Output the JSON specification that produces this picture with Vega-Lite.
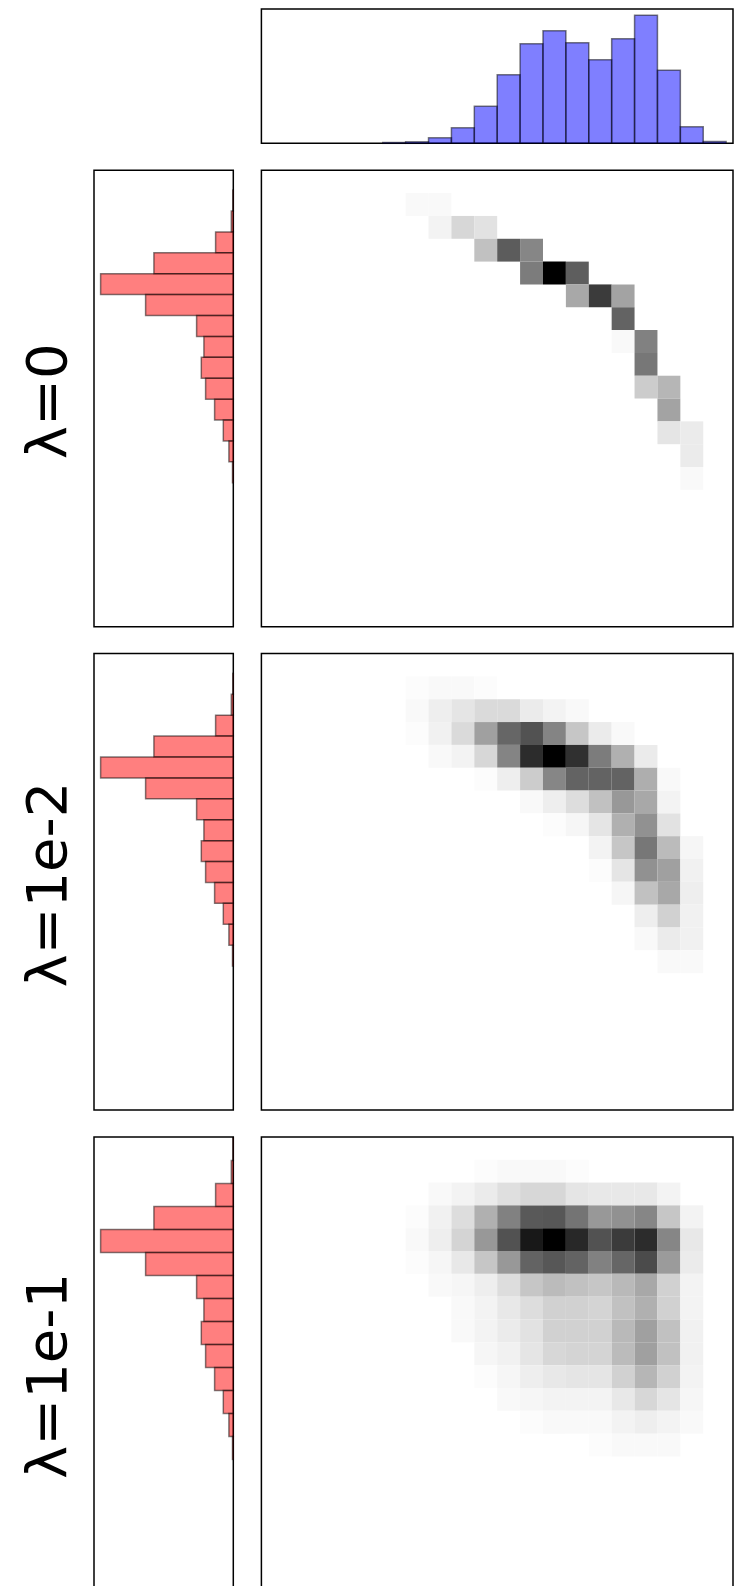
{
  "$schema": "https://vega.github.io/schema/vega-lite/v6.json",
  "padding": {"left": 19, "top": 8, "right": 0, "bottom": 0},
  "background": "#ffffff",
  "config": {
    "view": {"stroke": "#000000", "strokeWidth": 1.5},
    "axis": {"grid": false}
  },
  "datasets": {
    "top": [
      {"x0": 5, "x1": 6, "n": 0.8},
      {"x0": 6, "x1": 7, "n": 1.5},
      {"x0": 7, "x1": 8, "n": 5.5},
      {"x0": 8, "x1": 9, "n": 15.5},
      {"x0": 9, "x1": 10, "n": 37},
      {"x0": 10, "x1": 11, "n": 68.5},
      {"x0": 11, "x1": 12, "n": 99.5},
      {"x0": 12, "x1": 13, "n": 112.5},
      {"x0": 13, "x1": 14, "n": 100.5},
      {"x0": 14, "x1": 15, "n": 83.5},
      {"x0": 15, "x1": 16, "n": 104.5},
      {"x0": 16, "x1": 17, "n": 128},
      {"x0": 17, "x1": 18, "n": 73},
      {"x0": 18, "x1": 19, "n": 16.5},
      {"x0": 19, "x1": 20, "n": 1.7}
    ],
    "left": [
      {"y0": 1, "y1": 2, "n": 0.5},
      {"y0": 2, "y1": 3, "n": 2},
      {"y0": 3, "y1": 4, "n": 17.7},
      {"y0": 4, "y1": 5, "n": 79.4},
      {"y0": 5, "y1": 6, "n": 132.7},
      {"y0": 6, "y1": 7, "n": 87.7},
      {"y0": 7, "y1": 8, "n": 36.7},
      {"y0": 8, "y1": 9, "n": 29.4},
      {"y0": 9, "y1": 10, "n": 32},
      {"y0": 10, "y1": 11, "n": 27.7},
      {"y0": 11, "y1": 12, "n": 18.7},
      {"y0": 12, "y1": 13, "n": 10},
      {"y0": 13, "y1": 14, "n": 4.4},
      {"y0": 14, "y1": 15, "n": 0.8}
    ],
    "heat": [
      {"p": 1, "r": 1, "c": 6, "v": 0.02},
      {"p": 1, "r": 1, "c": 7, "v": 0.02},
      {"p": 1, "r": 2, "c": 7, "v": 0.04},
      {"p": 1, "r": 2, "c": 8, "v": 0.14},
      {"p": 1, "r": 2, "c": 9, "v": 0.1},
      {"p": 1, "r": 3, "c": 9, "v": 0.22},
      {"p": 1, "r": 3, "c": 10, "v": 0.61},
      {"p": 1, "r": 3, "c": 11, "v": 0.44},
      {"p": 1, "r": 4, "c": 11, "v": 0.48},
      {"p": 1, "r": 4, "c": 12, "v": 1.0},
      {"p": 1, "r": 4, "c": 13, "v": 0.6},
      {"p": 1, "r": 5, "c": 13, "v": 0.31},
      {"p": 1, "r": 5, "c": 14, "v": 0.75},
      {"p": 1, "r": 5, "c": 15, "v": 0.33},
      {"p": 1, "r": 6, "c": 15, "v": 0.58},
      {"p": 1, "r": 7, "c": 15, "v": 0.02},
      {"p": 1, "r": 7, "c": 16, "v": 0.46},
      {"p": 1, "r": 8, "c": 16, "v": 0.5},
      {"p": 1, "r": 9, "c": 16, "v": 0.18},
      {"p": 1, "r": 9, "c": 17, "v": 0.26},
      {"p": 1, "r": 10, "c": 17, "v": 0.33},
      {"p": 1, "r": 11, "c": 17, "v": 0.09},
      {"p": 1, "r": 11, "c": 18, "v": 0.07},
      {"p": 1, "r": 12, "c": 18, "v": 0.07},
      {"p": 1, "r": 13, "c": 18, "v": 0.02},

      {"p": 2, "r": 1, "c": 6, "v": 0.01},
      {"p": 2, "r": 1, "c": 7, "v": 0.02},
      {"p": 2, "r": 1, "c": 8, "v": 0.02},
      {"p": 2, "r": 1, "c": 9, "v": 0.01},
      {"p": 2, "r": 2, "c": 6, "v": 0.02},
      {"p": 2, "r": 2, "c": 7, "v": 0.06},
      {"p": 2, "r": 2, "c": 8, "v": 0.09},
      {"p": 2, "r": 2, "c": 9, "v": 0.13},
      {"p": 2, "r": 2, "c": 10, "v": 0.13},
      {"p": 2, "r": 2, "c": 11, "v": 0.07},
      {"p": 2, "r": 2, "c": 12, "v": 0.04},
      {"p": 2, "r": 2, "c": 13, "v": 0.02},
      {"p": 2, "r": 3, "c": 6, "v": 0.01},
      {"p": 2, "r": 3, "c": 7, "v": 0.05},
      {"p": 2, "r": 3, "c": 8, "v": 0.13},
      {"p": 2, "r": 3, "c": 9, "v": 0.34},
      {"p": 2, "r": 3, "c": 10, "v": 0.57},
      {"p": 2, "r": 3, "c": 11, "v": 0.65},
      {"p": 2, "r": 3, "c": 12, "v": 0.45},
      {"p": 2, "r": 3, "c": 13, "v": 0.2},
      {"p": 2, "r": 3, "c": 14, "v": 0.07},
      {"p": 2, "r": 3, "c": 15, "v": 0.02},
      {"p": 2, "r": 4, "c": 7, "v": 0.02},
      {"p": 2, "r": 4, "c": 8, "v": 0.04},
      {"p": 2, "r": 4, "c": 9, "v": 0.14},
      {"p": 2, "r": 4, "c": 10, "v": 0.45},
      {"p": 2, "r": 4, "c": 11, "v": 0.82},
      {"p": 2, "r": 4, "c": 12, "v": 1.0},
      {"p": 2, "r": 4, "c": 13, "v": 0.8},
      {"p": 2, "r": 4, "c": 14, "v": 0.48},
      {"p": 2, "r": 4, "c": 15, "v": 0.28},
      {"p": 2, "r": 4, "c": 16, "v": 0.07},
      {"p": 2, "r": 5, "c": 9, "v": 0.01},
      {"p": 2, "r": 5, "c": 10, "v": 0.06},
      {"p": 2, "r": 5, "c": 11, "v": 0.18},
      {"p": 2, "r": 5, "c": 12, "v": 0.44},
      {"p": 2, "r": 5, "c": 13, "v": 0.58},
      {"p": 2, "r": 5, "c": 14, "v": 0.58},
      {"p": 2, "r": 5, "c": 15, "v": 0.58},
      {"p": 2, "r": 5, "c": 16, "v": 0.29},
      {"p": 2, "r": 5, "c": 17, "v": 0.02},
      {"p": 2, "r": 6, "c": 11, "v": 0.02},
      {"p": 2, "r": 6, "c": 12, "v": 0.06},
      {"p": 2, "r": 6, "c": 13, "v": 0.12},
      {"p": 2, "r": 6, "c": 14, "v": 0.22},
      {"p": 2, "r": 6, "c": 15, "v": 0.37},
      {"p": 2, "r": 6, "c": 16, "v": 0.31},
      {"p": 2, "r": 6, "c": 17, "v": 0.04},
      {"p": 2, "r": 7, "c": 12, "v": 0.01},
      {"p": 2, "r": 7, "c": 13, "v": 0.03},
      {"p": 2, "r": 7, "c": 14, "v": 0.09},
      {"p": 2, "r": 7, "c": 15, "v": 0.28},
      {"p": 2, "r": 7, "c": 16, "v": 0.4},
      {"p": 2, "r": 7, "c": 17, "v": 0.1},
      {"p": 2, "r": 8, "c": 14, "v": 0.04},
      {"p": 2, "r": 8, "c": 15, "v": 0.2},
      {"p": 2, "r": 8, "c": 16, "v": 0.5},
      {"p": 2, "r": 8, "c": 17, "v": 0.24},
      {"p": 2, "r": 8, "c": 18, "v": 0.03},
      {"p": 2, "r": 9, "c": 14, "v": 0.01},
      {"p": 2, "r": 9, "c": 15, "v": 0.09},
      {"p": 2, "r": 9, "c": 16, "v": 0.4},
      {"p": 2, "r": 9, "c": 17, "v": 0.34},
      {"p": 2, "r": 9, "c": 18, "v": 0.05},
      {"p": 2, "r": 10, "c": 15, "v": 0.03},
      {"p": 2, "r": 10, "c": 16, "v": 0.22},
      {"p": 2, "r": 10, "c": 17, "v": 0.31},
      {"p": 2, "r": 10, "c": 18, "v": 0.06},
      {"p": 2, "r": 11, "c": 16, "v": 0.06},
      {"p": 2, "r": 11, "c": 17, "v": 0.16},
      {"p": 2, "r": 11, "c": 18, "v": 0.05},
      {"p": 2, "r": 12, "c": 16, "v": 0.02},
      {"p": 2, "r": 12, "c": 17, "v": 0.07},
      {"p": 2, "r": 12, "c": 18, "v": 0.05},
      {"p": 2, "r": 13, "c": 17, "v": 0.02},
      {"p": 2, "r": 13, "c": 18, "v": 0.02},

      {"p": 3, "r": 1, "c": 9, "v": 0.01},
      {"p": 3, "r": 1, "c": 10, "v": 0.02},
      {"p": 3, "r": 1, "c": 11, "v": 0.02},
      {"p": 3, "r": 1, "c": 12, "v": 0.02},
      {"p": 3, "r": 1, "c": 13, "v": 0.01},
      {"p": 3, "r": 2, "c": 7, "v": 0.02},
      {"p": 3, "r": 2, "c": 8, "v": 0.04},
      {"p": 3, "r": 2, "c": 9, "v": 0.07},
      {"p": 3, "r": 2, "c": 10, "v": 0.11},
      {"p": 3, "r": 2, "c": 11, "v": 0.14},
      {"p": 3, "r": 2, "c": 12, "v": 0.14},
      {"p": 3, "r": 2, "c": 13, "v": 0.09},
      {"p": 3, "r": 2, "c": 14, "v": 0.08},
      {"p": 3, "r": 2, "c": 15, "v": 0.08},
      {"p": 3, "r": 2, "c": 16, "v": 0.08},
      {"p": 3, "r": 2, "c": 17, "v": 0.04},
      {"p": 3, "r": 3, "c": 6, "v": 0.01},
      {"p": 3, "r": 3, "c": 7, "v": 0.05},
      {"p": 3, "r": 3, "c": 8, "v": 0.12},
      {"p": 3, "r": 3, "c": 9, "v": 0.28},
      {"p": 3, "r": 3, "c": 10, "v": 0.46},
      {"p": 3, "r": 3, "c": 11, "v": 0.62},
      {"p": 3, "r": 3, "c": 12, "v": 0.63},
      {"p": 3, "r": 3, "c": 13, "v": 0.51},
      {"p": 3, "r": 3, "c": 14, "v": 0.37},
      {"p": 3, "r": 3, "c": 15, "v": 0.4},
      {"p": 3, "r": 3, "c": 16, "v": 0.44},
      {"p": 3, "r": 3, "c": 17, "v": 0.2},
      {"p": 3, "r": 3, "c": 18, "v": 0.04},
      {"p": 3, "r": 4, "c": 6, "v": 0.02},
      {"p": 3, "r": 4, "c": 7, "v": 0.06},
      {"p": 3, "r": 4, "c": 8, "v": 0.15},
      {"p": 3, "r": 4, "c": 9, "v": 0.37},
      {"p": 3, "r": 4, "c": 10, "v": 0.65},
      {"p": 3, "r": 4, "c": 11, "v": 0.92},
      {"p": 3, "r": 4, "c": 12, "v": 1.0},
      {"p": 3, "r": 4, "c": 13, "v": 0.84},
      {"p": 3, "r": 4, "c": 14, "v": 0.65},
      {"p": 3, "r": 4, "c": 15, "v": 0.75},
      {"p": 3, "r": 4, "c": 16, "v": 0.82},
      {"p": 3, "r": 4, "c": 17, "v": 0.44},
      {"p": 3, "r": 4, "c": 18, "v": 0.08},
      {"p": 3, "r": 5, "c": 6, "v": 0.01},
      {"p": 3, "r": 5, "c": 7, "v": 0.03},
      {"p": 3, "r": 5, "c": 8, "v": 0.08},
      {"p": 3, "r": 5, "c": 9, "v": 0.2},
      {"p": 3, "r": 5, "c": 10, "v": 0.37},
      {"p": 3, "r": 5, "c": 11, "v": 0.58},
      {"p": 3, "r": 5, "c": 12, "v": 0.63},
      {"p": 3, "r": 5, "c": 13, "v": 0.58},
      {"p": 3, "r": 5, "c": 14, "v": 0.46},
      {"p": 3, "r": 5, "c": 15, "v": 0.57},
      {"p": 3, "r": 5, "c": 16, "v": 0.68},
      {"p": 3, "r": 5, "c": 17, "v": 0.36},
      {"p": 3, "r": 5, "c": 18, "v": 0.07},
      {"p": 3, "r": 6, "c": 7, "v": 0.02},
      {"p": 3, "r": 6, "c": 8, "v": 0.03},
      {"p": 3, "r": 6, "c": 9, "v": 0.06},
      {"p": 3, "r": 6, "c": 10, "v": 0.12},
      {"p": 3, "r": 6, "c": 11, "v": 0.2},
      {"p": 3, "r": 6, "c": 12, "v": 0.24},
      {"p": 3, "r": 6, "c": 13, "v": 0.22},
      {"p": 3, "r": 6, "c": 14, "v": 0.2},
      {"p": 3, "r": 6, "c": 15, "v": 0.25},
      {"p": 3, "r": 6, "c": 16, "v": 0.31},
      {"p": 3, "r": 6, "c": 17, "v": 0.16},
      {"p": 3, "r": 6, "c": 18, "v": 0.04},
      {"p": 3, "r": 7, "c": 8, "v": 0.02},
      {"p": 3, "r": 7, "c": 9, "v": 0.04},
      {"p": 3, "r": 7, "c": 10, "v": 0.08},
      {"p": 3, "r": 7, "c": 11, "v": 0.12},
      {"p": 3, "r": 7, "c": 12, "v": 0.16},
      {"p": 3, "r": 7, "c": 13, "v": 0.16},
      {"p": 3, "r": 7, "c": 14, "v": 0.15},
      {"p": 3, "r": 7, "c": 15, "v": 0.22},
      {"p": 3, "r": 7, "c": 16, "v": 0.28},
      {"p": 3, "r": 7, "c": 17, "v": 0.16},
      {"p": 3, "r": 7, "c": 18, "v": 0.04},
      {"p": 3, "r": 8, "c": 8, "v": 0.02},
      {"p": 3, "r": 8, "c": 9, "v": 0.04},
      {"p": 3, "r": 8, "c": 10, "v": 0.07},
      {"p": 3, "r": 8, "c": 11, "v": 0.1},
      {"p": 3, "r": 8, "c": 12, "v": 0.16},
      {"p": 3, "r": 8, "c": 13, "v": 0.16},
      {"p": 3, "r": 8, "c": 14, "v": 0.16},
      {"p": 3, "r": 8, "c": 15, "v": 0.25},
      {"p": 3, "r": 8, "c": 16, "v": 0.34},
      {"p": 3, "r": 8, "c": 17, "v": 0.22},
      {"p": 3, "r": 8, "c": 18, "v": 0.05},
      {"p": 3, "r": 9, "c": 9, "v": 0.03},
      {"p": 3, "r": 9, "c": 10, "v": 0.05},
      {"p": 3, "r": 9, "c": 11, "v": 0.09},
      {"p": 3, "r": 9, "c": 12, "v": 0.14},
      {"p": 3, "r": 9, "c": 13, "v": 0.15},
      {"p": 3, "r": 9, "c": 14, "v": 0.15},
      {"p": 3, "r": 9, "c": 15, "v": 0.24},
      {"p": 3, "r": 9, "c": 16, "v": 0.34},
      {"p": 3, "r": 9, "c": 17, "v": 0.22},
      {"p": 3, "r": 9, "c": 18, "v": 0.05},
      {"p": 3, "r": 10, "c": 9, "v": 0.01},
      {"p": 3, "r": 10, "c": 10, "v": 0.03},
      {"p": 3, "r": 10, "c": 11, "v": 0.06},
      {"p": 3, "r": 10, "c": 12, "v": 0.08},
      {"p": 3, "r": 10, "c": 13, "v": 0.09},
      {"p": 3, "r": 10, "c": 14, "v": 0.09},
      {"p": 3, "r": 10, "c": 15, "v": 0.16},
      {"p": 3, "r": 10, "c": 16, "v": 0.26},
      {"p": 3, "r": 10, "c": 17, "v": 0.16},
      {"p": 3, "r": 10, "c": 18, "v": 0.04},
      {"p": 3, "r": 11, "c": 10, "v": 0.02},
      {"p": 3, "r": 11, "c": 11, "v": 0.03},
      {"p": 3, "r": 11, "c": 12, "v": 0.04},
      {"p": 3, "r": 11, "c": 13, "v": 0.04},
      {"p": 3, "r": 11, "c": 14, "v": 0.04},
      {"p": 3, "r": 11, "c": 15, "v": 0.08},
      {"p": 3, "r": 11, "c": 16, "v": 0.14},
      {"p": 3, "r": 11, "c": 17, "v": 0.09},
      {"p": 3, "r": 11, "c": 18, "v": 0.03},
      {"p": 3, "r": 12, "c": 11, "v": 0.01},
      {"p": 3, "r": 12, "c": 12, "v": 0.02},
      {"p": 3, "r": 12, "c": 13, "v": 0.02},
      {"p": 3, "r": 12, "c": 14, "v": 0.02},
      {"p": 3, "r": 12, "c": 15, "v": 0.04},
      {"p": 3, "r": 12, "c": 16, "v": 0.06},
      {"p": 3, "r": 12, "c": 17, "v": 0.04},
      {"p": 3, "r": 12, "c": 18, "v": 0.02},
      {"p": 3, "r": 13, "c": 14, "v": 0.01},
      {"p": 3, "r": 13, "c": 15, "v": 0.02},
      {"p": 3, "r": 13, "c": 16, "v": 0.02},
      {"p": 3, "r": 13, "c": 17, "v": 0.02}
    ]
  },
  "columns": 2,
  "bounds": "flush",
  "spacing": {"row": 26.3, "column": 27.4},
  "concat": [
    {
      "width": 139.3, "height": 134.3,
      "view": {"stroke": null},
      "data": {"values": []},
      "mark": "rect",
      "encoding": {}
    },
    {
      "width": 471.6, "height": 134.3,
      "data": {"name": "top"},
      "mark": {"type": "rect", "fill": "#0000ff", "fillOpacity": 0.5, "stroke": "#000000", "strokeOpacity": 0.5, "strokeWidth": 1.5},
      "encoding": {
        "x": {"field": "x0", "type": "quantitative", "scale": {"domain": [-0.3, 20.3], "nice": false, "zero": false}, "axis": null},
        "x2": {"field": "x1"},
        "y": {"field": "n", "type": "quantitative", "scale": {"domain": [0, 134.3], "nice": false}, "axis": null},
        "y2": {"datum": 0}
      }
    },
    {
      "width": 139.3, "height": 456.5,
      "data": {"name": "left"},
      "mark": {"type": "rect", "fill": "#ff0000", "fillOpacity": 0.5, "stroke": "#000000", "strokeOpacity": 0.5, "strokeWidth": 1.5},
      "encoding": {
        "y": {"field": "y0", "type": "quantitative", "scale": {"domain": [0.053, 21.89], "nice": false, "zero": false, "reverse": true},
              "axis": {"title": "λ=0", "labels": false, "ticks": false, "domain": false, "grid": false, "titleFont": "DejaVu Sans", "titleFontSize": 56, "titleFontWeight": "normal", "titleColor": "#000000", "titlePadding": 29, "titleBaseline": "alphabetic", "titleY": 230.5}},
        "y2": {"field": "y1"},
        "x": {"field": "n", "type": "quantitative", "scale": {"domain": [0, 139.3], "nice": false, "reverse": true}, "axis": null},
        "x2": {"datum": 0}
      }
    },
    {
      "width": 471.6, "height": 456.5,
      "data": {"name": "heat"},
      "transform": [{"filter": "datum.p == 1"}],
      "mark": {"type": "rect", "strokeWidth": 0},
      "encoding": {
        "x": {"field": "c", "type": "ordinal", "scale": {"domain": [0,1,2,3,4,5,6,7,8,9,10,11,12,13,14,15,16,17,18,19], "paddingInner": 0, "paddingOuter": 0.3}, "axis": null},
        "y": {"field": "r", "type": "ordinal", "scale": {"domain": [0,1,2,3,4,5,6,7,8,9,10,11,12,13,14,15,16,17,18,19], "paddingInner": 0, "paddingOuter": 0}, "axis": null},
        "color": {"field": "v", "type": "quantitative", "scale": {"domain": [0, 1], "range": ["#ffffff", "#000000"]}, "legend": null}
      }
    },
    {
      "width": 139.3, "height": 456.5,
      "data": {"name": "left"},
      "mark": {"type": "rect", "fill": "#ff0000", "fillOpacity": 0.5, "stroke": "#000000", "strokeOpacity": 0.5, "strokeWidth": 1.5},
      "encoding": {
        "y": {"field": "y0", "type": "quantitative", "scale": {"domain": [0.053, 21.89], "nice": false, "zero": false, "reverse": true},
              "axis": {"title": "λ=1e-2", "labels": false, "ticks": false, "domain": false, "grid": false, "titleFont": "DejaVu Sans", "titleFontSize": 56, "titleFontWeight": "normal", "titleColor": "#000000", "titlePadding": 29, "titleBaseline": "alphabetic", "titleY": 230.5}},
        "y2": {"field": "y1"},
        "x": {"field": "n", "type": "quantitative", "scale": {"domain": [0, 139.3], "nice": false, "reverse": true}, "axis": null},
        "x2": {"datum": 0}
      }
    },
    {
      "width": 471.6, "height": 456.5,
      "data": {"name": "heat"},
      "transform": [{"filter": "datum.p == 2"}],
      "mark": {"type": "rect", "strokeWidth": 0},
      "encoding": {
        "x": {"field": "c", "type": "ordinal", "scale": {"domain": [0,1,2,3,4,5,6,7,8,9,10,11,12,13,14,15,16,17,18,19], "paddingInner": 0, "paddingOuter": 0.3}, "axis": null},
        "y": {"field": "r", "type": "ordinal", "scale": {"domain": [0,1,2,3,4,5,6,7,8,9,10,11,12,13,14,15,16,17,18,19], "paddingInner": 0, "paddingOuter": 0}, "axis": null},
        "color": {"field": "v", "type": "quantitative", "scale": {"domain": [0, 1], "range": ["#ffffff", "#000000"]}, "legend": null}
      }
    },
    {
      "width": 139.3, "height": 456.5,
      "data": {"name": "left"},
      "mark": {"type": "rect", "fill": "#ff0000", "fillOpacity": 0.5, "stroke": "#000000", "strokeOpacity": 0.5, "strokeWidth": 1.5},
      "encoding": {
        "y": {"field": "y0", "type": "quantitative", "scale": {"domain": [0.968, 20.83], "nice": false, "zero": false, "reverse": true},
              "axis": {"title": "λ=1e-1", "labels": false, "ticks": false, "domain": false, "grid": false, "titleFont": "DejaVu Sans", "titleFontSize": 56, "titleFontWeight": "normal", "titleColor": "#000000", "titlePadding": 29, "titleBaseline": "alphabetic", "titleY": 238.5}},
        "y2": {"field": "y1"},
        "x": {"field": "n", "type": "quantitative", "scale": {"domain": [0, 139.3], "nice": false, "reverse": true}, "axis": null},
        "x2": {"datum": 0}
      }
    },
    {
      "width": 471.6, "height": 456.5,
      "data": {"name": "heat"},
      "transform": [{"filter": "datum.p == 3"}],
      "mark": {"type": "rect", "strokeWidth": 0},
      "encoding": {
        "x": {"field": "c", "type": "ordinal", "scale": {"domain": [0,1,2,3,4,5,6,7,8,9,10,11,12,13,14,15,16,17,18,19], "paddingInner": 0, "paddingOuter": 0.3}, "axis": null},
        "y": {"field": "r", "type": "ordinal", "scale": {"domain": [0,1,2,3,4,5,6,7,8,9,10,11,12,13,14,15,16,17,18,19], "paddingInner": 0, "paddingOuter": 0}, "axis": null},
        "color": {"field": "v", "type": "quantitative", "scale": {"domain": [0, 1], "range": ["#ffffff", "#000000"]}, "legend": null}
      }
    }
  ]
}
